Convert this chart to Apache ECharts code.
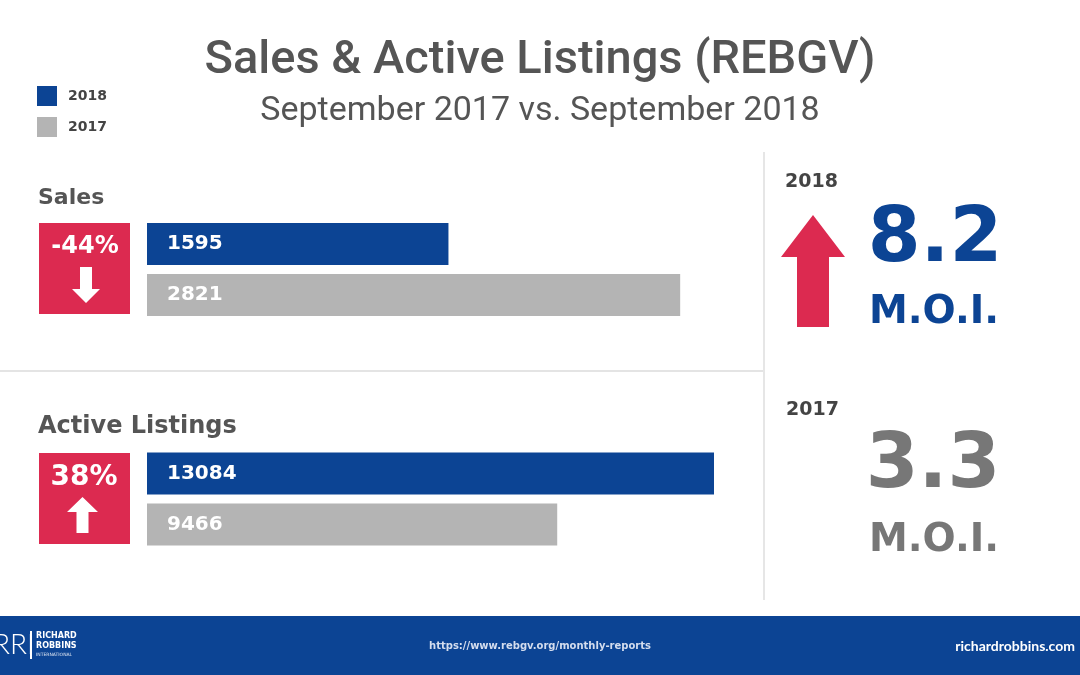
<!DOCTYPE html>
<html>
<head>
<meta charset="utf-8">
<script src="https://cdn.jsdelivr.net/npm/echarts@6/dist/echarts.min.js"></script>
<style>
html,body{margin:0;padding:0;background:#fff;}
#chart{width:1080px;height:675px;}
</style>
</head>
<body>
<div id="chart"></div>
<script>
// ---- data ----
var years = ['2018', '2017'];
var salesValues = [1595, 2821];
var listingsValues = [13084, 9466];
var salesChange = '-44%';
var listingsChange = '38%';
var moiYears = ['2018', '2017'];
var moiValues = ['8.2', '3.3'];
var titleText = 'Sales & Active Listings (REBGV)';
var subtitleText = 'September 2017 vs. September 2018';
var sourceText = 'https://www.rebgv.org/monthly-reports';
var siteText = 'richardrobbins.com';

// ---- style ----
var BLUE = '#0c4494';
var GREY = '#b4b4b4';
var RED = '#dc2a50';
var DARK = '#555555';
var BOLD = '"DejaVu Sans", sans-serif';

var chart = echarts.init(document.getElementById('chart'));

function barSeries(name, grid, values, idx, color) {
  var d = values.map(function (v, i) { return i === idx ? v : '-'; });
  return {
    name: name, type: 'bar', xAxisIndex: grid, yAxisIndex: grid,
    data: d, barWidth: 42, barGap: '-100%', silent: true,
    itemStyle: { color: color },
    label: {
      show: true, position: 'insideLeft', distance: 20,
      color: '#fff', fontFamily: BOLD, fontWeight: 'bold', fontSize: 20,
      formatter: '{c}'
    }
  };
}

function txt(text, x, y, size, color, weight, family, align) {
  return {
    type: 'text', silent: true,
    style: {
      text: text, x: x, y: y,
      font: (weight || 'normal') + ' ' + size + 'px ' + (family || BOLD),
      fill: color, textAlign: align || 'left', textVerticalAlign: 'middle'
    }
  };
}

var option = {
  backgroundColor: '#ffffff',
  animation: false,
  legend: {
    data: years, orient: 'vertical', left: 32, top: 81,
    itemWidth: 20, itemHeight: 20, itemGap: 11, icon: 'rect',
    selectedMode: false,
    textStyle: { color: '#444', fontFamily: BOLD, fontWeight: 'bold', fontSize: 14, padding: [0, 0, 0, 6] }
  },
  grid: [
    { left: 147, top: 218.5, width: 567, height: 102 },
    { left: 147, top: 448, width: 567, height: 102 }
  ],
  xAxis: [
    { gridIndex: 0, type: 'value', min: 0, max: 3000, show: false },
    { gridIndex: 1, type: 'value', min: 0, max: 13084, show: false }
  ],
  yAxis: [
    { gridIndex: 0, type: 'category', data: years, inverse: true, show: false },
    { gridIndex: 1, type: 'category', data: years, inverse: true, show: false }
  ],
  series: [
    barSeries(years[0], 0, salesValues, 0, BLUE),
    barSeries(years[1], 0, salesValues, 1, GREY),
    barSeries(years[0], 1, listingsValues, 0, BLUE),
    barSeries(years[1], 1, listingsValues, 1, GREY)
  ],
  graphic: [
    // dividers
    { type: 'rect', silent: true, shape: { x: 0, y: 370, width: 763, height: 2 }, style: { fill: '#e4e4e4' } },
    { type: 'rect', silent: true, shape: { x: 763, y: 152, width: 2, height: 448 }, style: { fill: '#e6e6e6' } },
    // titles
    txt(titleText, 540, 61, 47, DARK, '500', 'Roboto, sans-serif', 'center'),
    txt(subtitleText, 540, 111, 34, DARK, 'normal', 'Roboto, sans-serif', 'center'),
    // section labels
    txt('Sales', 38, 198, 22, DARK, 'bold'),
    txt('Active Listings', 38, 427, 24, DARK, 'bold'),
    // red boxes
    { type: 'rect', silent: true, shape: { x: 39, y: 223, width: 91, height: 91 }, style: { fill: RED } },
    { type: 'rect', silent: true, shape: { x: 39, y: 453, width: 91, height: 91 }, style: { fill: RED } },
    txt(salesChange, 85, 247, 24, '#fff', 'bold', BOLD, 'center'),
    txt(listingsChange, 84, 478, 28, '#fff', 'bold', BOLD, 'center'),
    { type: 'polygon', silent: true, shape: { points: [[80,267],[92,267],[92,289],[100,289],[86,303],[72,289],[80,289]] }, style: { fill: '#fff' } },
    { type: 'polygon', silent: true, shape: { points: [[82.5,497],[98,512],[88.5,512],[88.5,533],[76.5,533],[76.5,512],[67,512]] }, style: { fill: '#fff' } },
    // right panel
    txt(moiYears[0], 785, 182, 19, '#444', 'bold'),
    txt(moiYears[1], 786, 410, 19, '#444', 'bold'),
    { type: 'polygon', silent: true, shape: { points: [[813,215],[845,257],[829,257],[829,327],[797,327],[797,257],[781,257]] }, style: { fill: RED } },
    txt(moiValues[0], 935, 241, 76, BLUE, 'bold', BOLD, 'center'),
    txt('M.O.I.', 934, 313, 39, BLUE, 'bold', BOLD, 'center'),
    txt(moiValues[1], 933, 467, 76, '#777', 'bold', BOLD, 'center'),
    txt('M.O.I.', 934, 541, 39, '#777', 'bold', BOLD, 'center'),
    // footer
    { type: 'rect', silent: true, shape: { x: 0, y: 616, width: 1080, height: 59 }, style: { fill: BLUE } },
    txt('RRI', -7, 645, 28, '#fff', '300', 'Lato, sans-serif', 'left'),
    { type: 'rect', silent: true, shape: { x: 30, y: 631, width: 2, height: 28 }, style: { fill: '#fff' } },
    txt('RICHARD', 36, 636, 8, '#fff', 'bold', BOLD),
    txt('ROBBINS', 36, 646, 8, '#fff', 'bold', BOLD),
    txt('INTERNATIONAL', 36, 655, 4.5, '#dfe6f2', 'normal', BOLD),
    txt(sourceText, 540, 646, 10, '#d4ddee', 'bold', BOLD, 'center'),
    txt(siteText, 1075, 646, 14, '#fff', 'bold', 'Lato, sans-serif', 'right')
  ]
};
chart.setOption(option);
</script>
</body>
</html>
